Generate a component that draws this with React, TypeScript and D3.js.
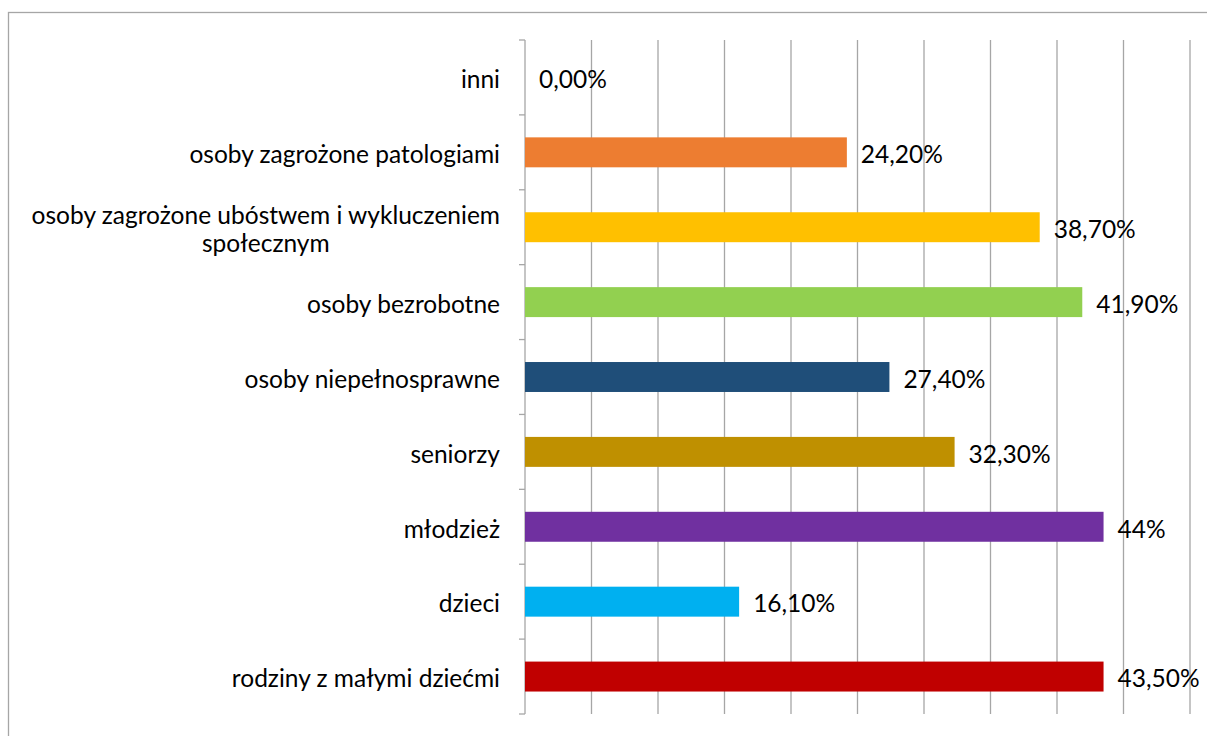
import { useEffect, useRef } from "react";
import * as d3 from "d3";

const categories = [
  "inni",
  "osoby zagrożone patologiami",
  "osoby zagrożone ubóstwem i wykluczeniem\nspołecznym",
  "osoby bezrobotne",
  "osoby niepełnosprawne",
  "seniorzy",
  "młodzież",
  "dzieci",
  "rodziny z małymi dziećmi",
];
const values = [0, 24.2, 38.7, 41.9, 27.4, 32.3, 43.5, 16.1, 43.5];
const valueLabels = ["0,00%", "24,20%", "38,70%", "41,90%", "27,40%", "32,30%", "44%", "16,10%", "43,50%"];
const colors = ["#4472C4", "#ED7D31", "#FFC000", "#92D050", "#1F4E79", "#BF9000", "#7030A0", "#00B0F0", "#C00000"];
const xTicks = [0, 5, 10, 15, 20, 25, 30, 35, 40, 45, 50];

export default function App() {
  const ref = useRef<SVGSVGElement | null>(null);

  useEffect(() => {
    if (!ref.current) return;

    const width = 1207;
    const height = 736;
    const plot = { left: 525, right: 1190, top: 40, bottom: 714 };
    const font = "Lato, 'Noto Sans', sans-serif";
    const fontSize = 24.5;
    const grey = "#a6a6a6";

    const svg = d3.select(ref.current).attr("viewBox", `0 0 ${width} ${height}`);
    svg.selectAll("*").remove();

    const x = d3.scaleLinear().domain([0, 50]).range([plot.left, plot.right]);
    const y = d3
      .scaleBand()
      .domain(categories)
      .range([plot.top, plot.bottom])
      .paddingInner(0.6)
      .paddingOuter(0.3);

    /* ---------------- FRAME ---------------- */

    svg.append("rect")
      .attr("x", 8.5)
      .attr("y", 12.5)
      .attr("width", 1300)
      .attr("height", 900)
      .attr("fill", "#fff")
      .attr("stroke", grey)
      .attr("stroke-width", 1.3);

    /* ---------------- GRID LINES ---------------- */

    svg.selectAll(".grid")
      .data(xTicks.slice(1))
      .enter()
      .append("line")
      .attr("x1", d => x(d))
      .attr("x2", d => x(d))
      .attr("y1", plot.top)
      .attr("y2", plot.bottom)
      .attr("stroke", grey)
      .attr("stroke-width", 1.3);

    /* ---------------- CATEGORY AXIS ---------------- */

    const step = y.step();
    const bounds = d3.range(categories.length + 1).map(i => plot.top + i * step);

    svg.append("line")
      .attr("x1", plot.left)
      .attr("x2", plot.left)
      .attr("y1", plot.top)
      .attr("y2", plot.bottom)
      .attr("stroke", grey)
      .attr("stroke-width", 1.3);

    svg.selectAll(".ytick")
      .data(bounds)
      .enter()
      .append("line")
      .attr("x1", plot.left - 6)
      .attr("x2", plot.left)
      .attr("y1", d => d)
      .attr("y2", d => d)
      .attr("stroke", grey)
      .attr("stroke-width", 1.3);

    /* ---------------- BARS ---------------- */

    svg.selectAll(".bar")
      .data(values)
      .enter()
      .append("rect")
      .attr("x", x(0))
      .attr("y", (_, i) => y(categories[i])!)
      .attr("width", d => x(d) - x(0))
      .attr("height", y.bandwidth())
      .attr("fill", (_, i) => colors[i]);

    /* ---------------- VALUE LABELS ---------------- */

    svg.selectAll(".val")
      .data(values)
      .enter()
      .append("text")
      .attr("x", d => x(d) + 14)
      .attr("y", (_, i) => y(categories[i])! + y.bandwidth() / 2 + 2)
      .attr("dy", "0.36em")
      .attr("font-family", font)
      .attr("font-size", fontSize)
      .attr("fill", "#000")
      .text((_, i) => valueLabels[i]);

    /* ---------------- CATEGORY LABELS ---------------- */

    const labelRight = plot.left - 25;
    const lineH = fontSize * 1.18;

    categories.forEach(cat => {
      const lines = cat.split("\n");
      const cy = y(cat)! + y.bandwidth() / 2 + 2;
      const t = svg.append("text")
        .attr("font-family", font)
        .attr("font-size", fontSize)
        .attr("fill", "#000")
        .attr("text-anchor", "middle");
      const spans = lines.map((ln, j) =>
        t.append("tspan")
          .attr("y", cy + (j - (lines.length - 1) / 2) * lineH)
          .attr("dy", "0.36em")
          .text(ln)
      );
      const w = d3.max(spans, s => (s.node() as SVGTSpanElement).getComputedTextLength()) ?? 0;
      spans.forEach(s => s.attr("x", labelRight - w / 2));
    });
  }, []);

  return (
    <svg
      ref={ref}
      width={1207}
      height={736}
      style={{ position: "absolute", left: 0, top: 0, display: "block" }}
    />
  );
}
